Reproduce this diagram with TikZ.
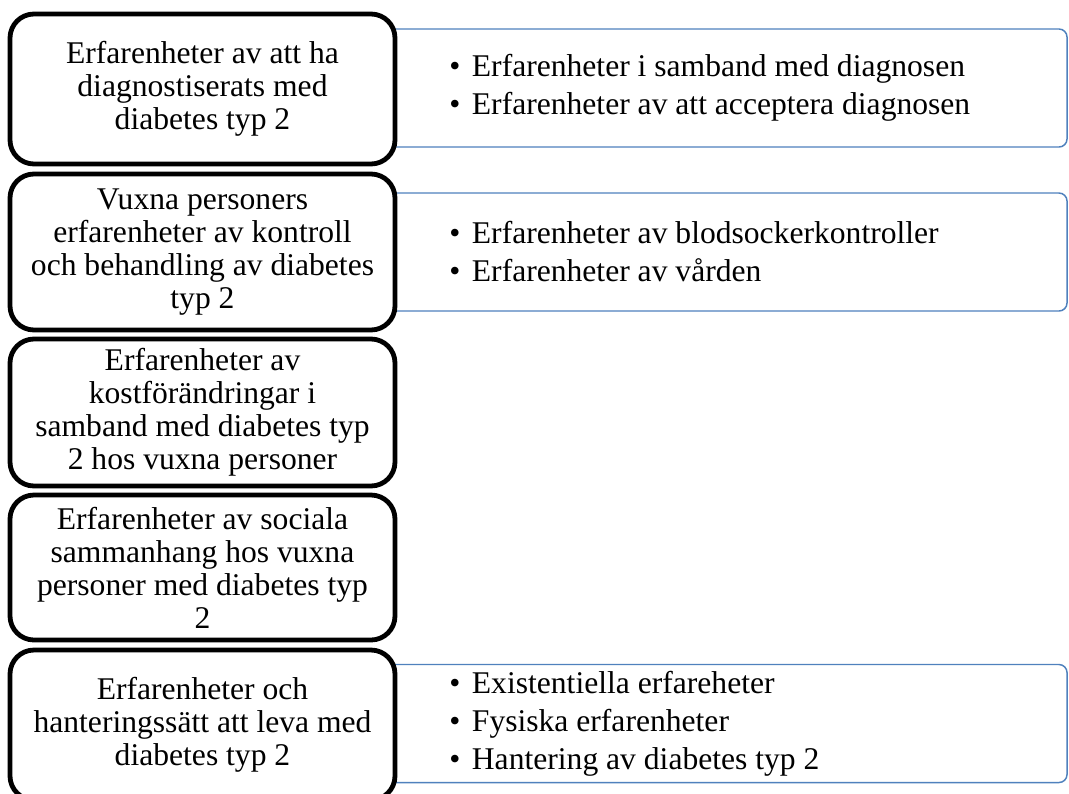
\documentclass[tikz,border=0pt]{standalone}
\usepackage{fontspec}
\setmainfont{Liberation Serif}
\usepackage{xcolor}
\usepackage{tikz}
\usetikzlibrary{positioning}
\definecolor{itemBlue}{HTML}{4F81BD}

\begin{document}
\begin{tikzpicture}[
    x=0.75pt, y=-0.75pt,
    themebox/.style={rectangle, rounded corners=18pt, draw=black, line width=3.6pt,
      fill=white, minimum width=288.75pt, inner sep=0pt, align=center,
      font=\fontsize{23.7}{24.75}\selectfont},
    itembox/.style={rectangle, rounded corners=6pt, draw=itemBlue, line width=1.1pt,
      fill=white, minimum width=515.25pt, minimum height=88.5pt, inner sep=0pt},
    itemtext/.style={anchor=west, inner sep=0pt, align=left,
      font=\fontsize{23.7}{28.5}\selectfont}
  ]
  \clip (0,0) rectangle (1069,793);
  \newcommand{\itm}[1]{\makebox[17pt][l]{\textbullet}#1}
  % subthemes (behind)
  \node[itembox] (r1) at (723.5,88) {};
  \node[itembox] (r2) at (723.5,252) {};
  \node[itembox] (r5) at (723.5,723.5) {};
  \node[itemtext] (t1) at (449,88) {\itm{Erfarenheter i samband med diagnosen}\\\itm{Erfarenheter av att acceptera diagnosen}};
  \node[itemtext] (t2) at (449,252) {\itm{Erfarenheter av blodsockerkontroller}\\\itm{Erfarenheter av vården}};
  \node[itemtext] (t5) at (449,723.5) {\itm{Existentiella erfareheter}\\\itm{Fysiska erfarenheter}\\\itm{Hantering av diabetes typ 2}};
  % themes
  \node[themebox, minimum height=112.5pt] (l1) at (202.5,89) {Erfarenheter av att ha\\diagnostiserats med\\diabetes typ 2};
  \node[themebox, minimum height=117pt] (l2) at (202.5,252) {Vuxna personers\\erfarenheter av kontroll\\och behandling av diabetes\\typ 2};
  \node[themebox, minimum height=110.25pt] (l3) at (202.5,412.5) {Erfarenheter av\\kostförändringar i\\samband med diabetes typ\\2 hos vuxna personer};
  \node[themebox, minimum height=108.75pt] (l4) at (202.5,567.5) {Erfarenheter av sociala\\sammanhang hos vuxna\\personer med diabetes typ\\2};
  \node[themebox, minimum height=112.5pt] (l5) at (202.5,725) {Erfarenheter och\\hanteringssätt att leva med\\diabetes typ 2};
\end{tikzpicture}
\end{document}
